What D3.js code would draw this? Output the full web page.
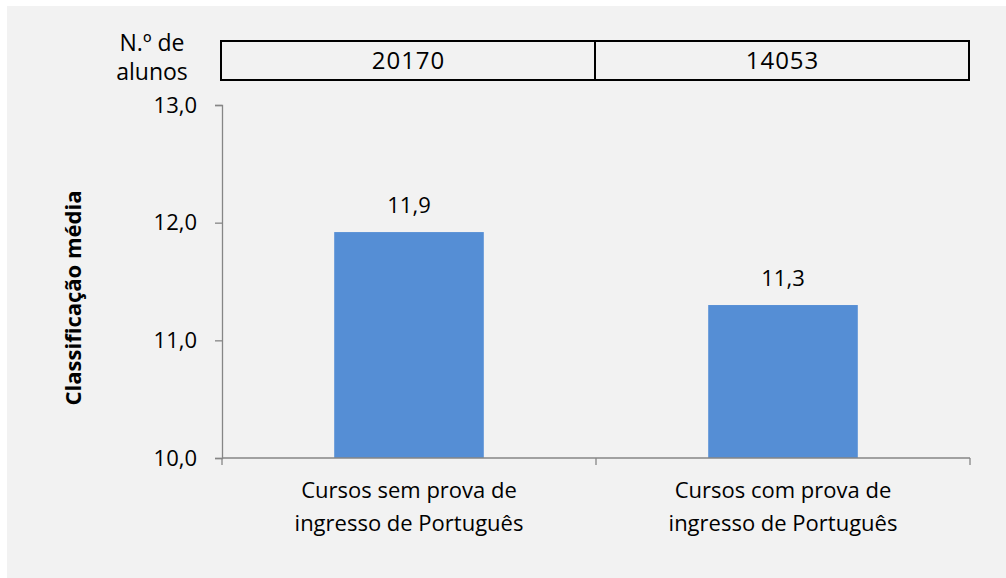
<!DOCTYPE html>
<meta charset="utf-8" />
<title>Classificação média</title>
<script src="https://cdn.jsdelivr.net/npm/d3@7/dist/d3.min.js"></script>

<style>
  html, body {
    margin: 0;
    padding: 0;
    overflow: hidden;
    background: #ffffff;
    font-family: "Open Sans", sans-serif;
  }

  svg {
    display: block;
  }

  .axis path,
  .axis line {
    fill: none;
    stroke: #868686;
    stroke-width: 1.3;
  }
</style>

<body>
  <div id="chart"></div>
</body>

<script>
  // data
  var categories = [
    ["Cursos sem prova de", "ingresso de Português"],
    ["Cursos com prova de", "ingresso de Português"]
  ];
  var values = [11.92, 11.30];
  var alunos = ["20170", "14053"];
  var yTicks = [10, 11, 12, 13];

  var W = 1006, H = 578;
  var margin = { top: 105, right: 36, bottom: 120, left: 222 },
    width = W - margin.left - margin.right,
    height = H - margin.top - margin.bottom;

  var svg = d3.select("#chart")
    .append("svg")
    .attr("width", W)
    .attr("height", H);

  // grey chart area
  svg.append("rect")
    .attr("x", 7)
    .attr("y", 6)
    .attr("width", W - 7)
    .attr("height", H - 6)
    .style("fill", "#f2f2f2");

  var g = svg.append("g")
    .attr("transform", "translate(" + margin.left + "," + margin.top + ")");

  var x = d3.scaleBand()
    .domain(d3.range(categories.length))
    .range([0, width])
    .paddingInner(0.6)
    .paddingOuter(0.3);

  var y = d3.scaleLinear()
    .domain([10, 13])
    .range([height, 0]);

  var fmt = function (v) { return d3.format(".1f")(v).replace(".", ","); };

  // bars
  g.selectAll(".bar")
    .data(values)
    .enter()
    .append("rect")
    .attr("class", "bar")
    .attr("x", function (d, i) { return x(i); })
    .attr("y", function (d) { return y(d); })
    .attr("width", x.bandwidth())
    .attr("height", function (d) { return height - y(d); })
    .style("fill", "#558ed5");

  // value labels
  g.selectAll(".val")
    .data(values)
    .enter()
    .append("text")
    .attr("x", function (d, i) { return x(i) + x.bandwidth() / 2; })
    .attr("y", function (d) { return y(d) - 19; })
    .attr("text-anchor", "middle")
    .style("font-size", "22px")
    .style("fill", "#000")
    .text(function (d) { return fmt(d); });

  // y axis
  var yAxis = g.append("g")
    .attr("class", "axis")
    .call(d3.axisLeft(y).tickValues(yTicks).tickSize(7).tickPadding(18).tickFormat(fmt));
  yAxis.selectAll("text").style("font-size", "22px").style("fill", "#000").style("font-family", "Open Sans");

  // x axis: ticks between categories
  var xAxis = g.append("g")
    .attr("class", "axis")
    .attr("transform", "translate(0," + height + ")");
  xAxis.append("line")
    .attr("x1", 0).attr("x2", width)
    .attr("y1", 0).attr("y2", 0);
  xAxis.selectAll(".tk")
    .data(d3.range(categories.length + 1))
    .enter()
    .append("line")
    .attr("x1", function (d) { return d * x.step(); })
    .attr("x2", function (d) { return d * x.step(); })
    .attr("y1", 0)
    .attr("y2", 7);

  // category labels
  var cat = g.selectAll(".cat")
    .data(categories)
    .enter()
    .append("text")
    .attr("text-anchor", "middle")
    .attr("transform", function (d, i) {
      return "translate(" + (x(i) + x.bandwidth() / 2) + "," + (height + 40) + ")";
    })
    .style("font-size", "22px")
    .style("fill", "#000");
  cat.selectAll("tspan")
    .data(function (d) { return d; })
    .enter()
    .append("tspan")
    .attr("x", 0)
    .attr("dy", function (d, i) { return i === 0 ? 0 : 33; })
    .text(function (d) { return d; });

  // y axis title
  svg.append("text")
    .attr("transform", "translate(81,298) rotate(-90)")
    .attr("text-anchor", "middle")
    .style("font-size", "22px")
    .style("font-weight", "bold")
    .text("Classificação média");

  // N.º de alunos table
  var tbl = svg.append("g")
    .attr("transform", "translate(" + (margin.left - 1) + ",41)");
  tbl.selectAll(".cell")
    .data(alunos)
    .enter()
    .append("rect")
    .attr("x", function (d, i) { return i * x.step(); })
    .attr("y", 0)
    .attr("width", x.step())
    .attr("height", 39)
    .style("fill", "none")
    .style("stroke", "#000")
    .style("stroke-width", 2);
  tbl.selectAll(".num")
    .data(alunos)
    .enter()
    .append("text")
    .attr("x", function (d, i) { return i * x.step() + x.step() / 2 + 0.5; })
    .attr("y", 28)
    .attr("text-anchor", "middle")
    .style("font-size", "24px")
    .style("letter-spacing", "1px")
    .text(function (d) { return d; });

  var nlab = svg.append("text")
    .attr("text-anchor", "middle")
    .style("font-size", "23px");
  nlab.append("tspan").attr("x", 152).attr("y", 51).text("N.º de");
  nlab.append("tspan").attr("x", 152).attr("y", 80).text("alunos");
</script>
